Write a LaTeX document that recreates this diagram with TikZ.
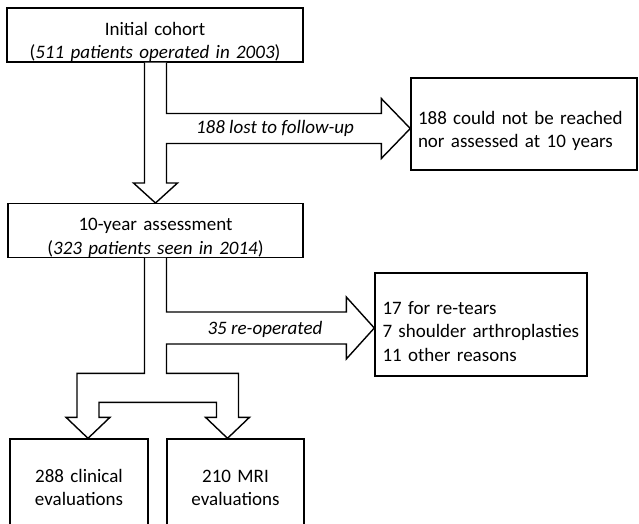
\documentclass[tikz,border=0pt]{standalone}
\usepackage{fontspec}
\setmainfont{Carlito}
\usetikzlibrary{positioning}
\usetikzlibrary{calc}
\tikzset{
  box/.style={draw, line width=1.4pt, inner sep=0pt, align=center, font=\fontsize{19}{23.5}\selectfont,
              execute at begin node={\rule{0pt}{#1}}},
  box/.default=27pt,
  listbox/.style={box, align=left, inner xsep=7pt},
  evalbox/.style={box=20pt, minimum height=90pt},
  fat/.style={draw, line width=1.4pt, fill=white, line join=miter},
  lbl/.style={inner sep=0pt, font=\fontsize{19}{23.5}\selectfont\itshape},
}

\begin{document}
\begin{tikzpicture}[x=1pt,y=-1pt]
            \useasboundingbox (0,0) rectangle (639,523);

            \node (init)   [box, minimum width=296pt, minimum height=54pt, text width=290pt] at (155,35)
                {Initial cohort\\(\textit{511 patients operated in 2003})};
            \node (lost)   [listbox, minimum width=226pt, minimum height=92pt, text width=212pt] at (524,124)
                {188 could not be reached\\nor assessed at 10 years};
            \node (assess) [box, minimum width=295pt, minimum height=53pt, text width=289pt] at (155.5,230.5)
                {10-year assessment\\(\textit{323 patients seen in 2014})};
            \node (reop)   [listbox, minimum width=212pt, minimum height=103pt, text width=197pt] at (481,324.5)
                {17 for re-tears\\7 shoulder arthroplasties\\11 other reasons};
            \node (clin)   [evalbox, minimum width=138pt, text width=132pt] at (79,484)
                {288 clinical\\evaluations};
            \node (mri)    [evalbox, minimum width=137pt, text width=131pt] at (235.5,484)
                {210 MRI\\evaluations};

            \coordinate (sA) at ($(assess.north)+(11,0)$);
            \coordinate (t1) at ($(lost.west)+(0,4.5)$);
            \coordinate (t2) at ($(reop.west)+(0,3.5)$);
            \coordinate (c1) at ($(clin.north)+(9,0)$);
            \coordinate (c2) at ($(mri.north)+(-8,0)$);

            % initial cohort -> 10-year assessment, lost to follow-up
            \draw[fat] ($(sA |- init.south)+(-22,0)$) -- ($(sA)+(-22,-20)$) -- ++(-11,0) -- (assess.north)
                -- ++(22,-20) -- ++(-11,0) |- ($(t1)+(-29,15)$) -- ++(0,15) -- (t1)
                -- ++(-29,-30) -- ++(0,15) -| (sA |- init.south);
            % 10-year assessment -> evaluations, re-operated
            \draw[fat] ($(sA |- assess.south)+(-22,0)$) |- ($(c1)+(-11,-65)$) -- ++(0,44) -- ++(-11,0) -- (c1)
                -- ++(22,-21) -- ++(-11,0) -- ++(0,-15) -| ($(c2)+(-11,-21)$) -- ++(-11,0) -- (c2)
                -- ++(22,-21) -- ++(-11,0) -- ++(0,-44) -- ++(-72,0) |- ($(t2)+(-28,16)$)
                -- ++(0,15) -- (t2) -- ++(-28,-31) -- ++(0,15) -| (sA |- assess.south);

            \node (lostlbl) [lbl] at (275,128) {188 lost to follow-up};
            \node (reoplbl) [lbl] at (265,329) {35 re-operated};
\end{tikzpicture}
\end{document}
